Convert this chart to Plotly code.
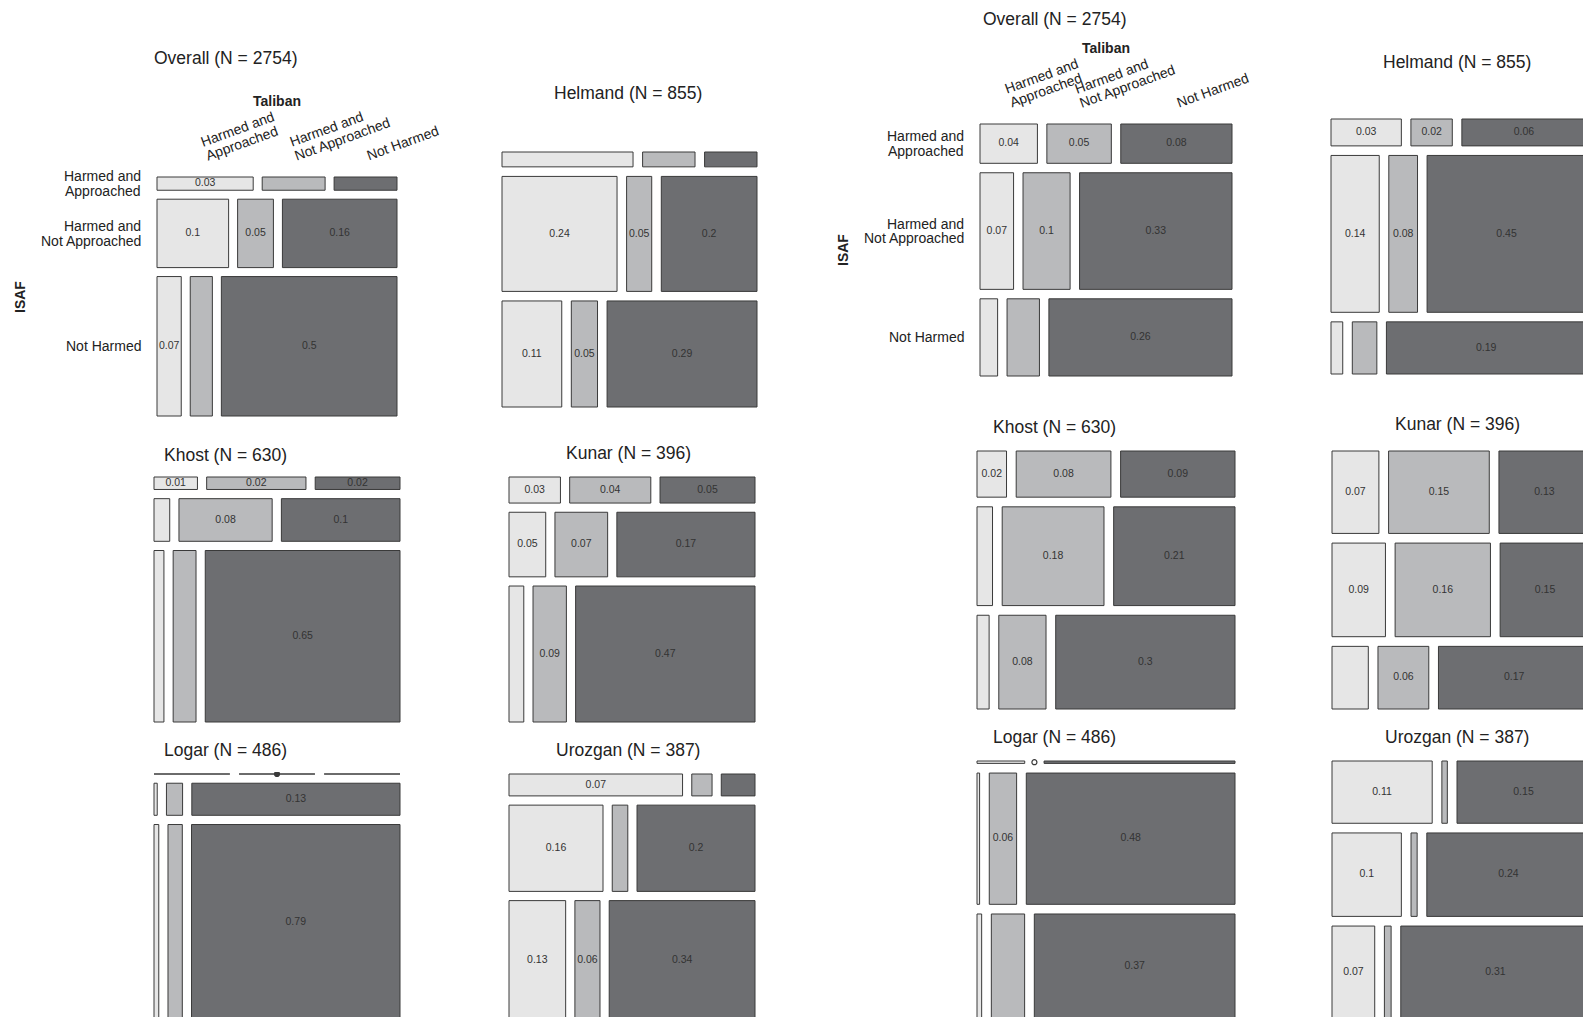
import math
import plotly.graph_objects as go

W, H = 1583, 1017

# ---------------- data ----------------
regions = ["Overall", "Helmand", "Khost", "Kunar", "Logar", "Urozgan"]
n_obs = [2754, 855, 630, 396, 486, 387]
isaf_levels = [["Harmed and", "Approached"], ["Harmed and", "Not Approached"], ["Not Harmed"]]
taliban_levels = [["Harmed and", "Approached"], ["Harmed and", "Not Approached"], ["Not Harmed"]]

# rows = ISAF category, columns = Taliban category (cell proportions)
left_overall = [[0.026, 0.017, 0.017], [0.100, 0.050, 0.160], [0.069, 0.063, 0.500]]
left_helmand = [[0.035, 0.014, 0.014], [0.238, 0.052, 0.198], [0.114, 0.050, 0.286]]
left_khost = [[0.0105, 0.024, 0.0205], [0.013, 0.077, 0.098], [0.033, 0.076, 0.647]]
left_kunar = [[0.026, 0.041, 0.048], [0.046, 0.066, 0.173], [0.039, 0.088, 0.473]]
left_logar = [[0.0, 0.0, 0.0], [0.002, 0.010, 0.129], [0.018, 0.054, 0.787]]
left_urozgan = [[0.0736, 0.0086, 0.0143], [0.157, 0.026, 0.197], [0.131, 0.058, 0.337]]

right_overall = [[0.0415, 0.0466, 0.0804], [0.072, 0.101, 0.327], [0.025, 0.046, 0.260]]
right_helmand = [[0.034, 0.020, 0.060], [0.136, 0.081, 0.448], [0.011, 0.023, 0.187]]
right_khost = [[0.024, 0.077, 0.093], [0.027, 0.177, 0.211], [0.020, 0.078, 0.296]]
right_kunar = [[0.068, 0.146, 0.132], [0.088, 0.157, 0.148], [0.040, 0.056, 0.167]]
right_logar = [[0.002, 0.0, 0.008], [0.006, 0.063, 0.481], [0.0086, 0.0614, 0.370]]
right_urozgan = [[0.110, 0.006, 0.146], [0.102, 0.009, 0.240], [0.070, 0.011, 0.310]]

# which cells carry a printed value
left_overall_lab = [[1, 0, 0], [1, 1, 1], [1, 0, 1]]
left_helmand_lab = [[0, 0, 0], [1, 1, 1], [1, 1, 1]]
left_khost_lab = [[1, 1, 1], [0, 1, 1], [0, 0, 1]]
left_kunar_lab = [[1, 1, 1], [1, 1, 1], [0, 1, 1]]
left_logar_lab = [[0, 0, 0], [0, 0, 1], [0, 0, 1]]
left_urozgan_lab = [[1, 0, 0], [1, 0, 1], [1, 1, 1]]

right_overall_lab = [[1, 1, 1], [1, 1, 1], [0, 0, 1]]
right_helmand_lab = [[1, 1, 1], [1, 1, 1], [0, 0, 1]]
right_khost_lab = [[1, 1, 1], [0, 1, 1], [0, 1, 1]]
right_kunar_lab = [[1, 1, 1], [1, 1, 1], [0, 1, 1]]
right_logar_lab = [[0, 0, 0], [0, 1, 1], [0, 0, 1]]
right_urozgan_lab = [[1, 0, 1], [1, 0, 1], [1, 0, 1]]

# empty cells marked with a small circle
left_logar_zero = [(0, 1)]
right_logar_zero = [(0, 1)]

# ---------------- layout (pixel boxes) ----------------
panels = [
    (left_overall, left_overall_lab, [], 0, (157, 177, 397, 416), (225, 58), True),
    (left_helmand, left_helmand_lab, [], 1, (502, 152, 757, 407), (628, 93), False),
    (left_khost, left_khost_lab, [], 2, (154, 477, 400, 722), (225, 455), False),
    (left_kunar, left_kunar_lab, [], 3, (509, 477, 755, 722), (628.5, 453), False),
    (left_logar, left_logar_lab, left_logar_zero, 4, (154, 774, 400, 1020), (225, 750), False),
    (left_urozgan, left_urozgan_lab, [], 5, (509, 774, 755, 1020), (628, 750), False),
    (right_overall, right_overall_lab, [], 0, (980, 124, 1232, 376), (1054, 19), True),
    (right_helmand, right_helmand_lab, [], 1, (1331, 119, 1586, 374), (1457, 62), False),
    (right_khost, right_khost_lab, [], 2, (977, 451, 1235, 709), (1054, 427), False),
    (right_kunar, right_kunar_lab, [], 3, (1332, 451, 1590, 709), (1457.5, 424), False),
    (right_logar, right_logar_lab, right_logar_zero, 4, (977, 761, 1235, 1019), (1054, 737), False),
    (right_urozgan, right_urozgan_lab, [], 5, (1332, 761, 1590, 1019), (1457, 737), False),
]
header_pos = [((277, 101), (20, 297)), ((1105.5, 48), (843, 250))]

FONT = "Liberation Sans, Arial, Helvetica, sans-serif"
FILLS = ["#e6e6e6", "#b9babc", "#6d6e71"]
EDGE = "#3a3a3a"
TXT = "#222222"
GAP = 0.0375
LINE = 14.6          # line spacing of two-line labels (px)
ANG = 20.0           # rotation of column labels (deg)


def mosaic(vals, g=GAP):
    tot = sum(sum(r) for r in vals)
    avail = 1 - 2 * g
    out = []
    ytop = 1.0
    for i, r in enumerate(vals):
        rs = sum(r)
        h = avail * rs / tot
        y0, y1 = ytop - h, ytop
        conds = [v / rs for v in r] if rs > 0 else [1 / 3] * 3
        x = 0.0
        for j, c in enumerate(conds):
            w = avail * c
            out.append((i, j, x, x + w, y0, y1, rs == 0))
            x += w + g
        ytop = y0 - g
    return out


fig = go.Figure()
annotations = []
layout_axes = {}
sa, ca = math.sin(math.radians(ANG)), math.cos(math.radians(ANG))

for k, (vals, labs, zeros, ridx, box, tpos, header) in enumerate(panels, start=1):
    x0, y0, x1, y1 = box
    bw, bh = x1 - x0, y1 - y0
    pad = 2
    vx0, vx1 = max(x0 - pad, 0), min(x1 + pad, W)
    vy0, vy1 = max(y0 - pad, 0), min(y1 + pad, H)
    xr = [(vx0 - x0) / bw, (vx1 - x0) / bw]
    yr = [(y1 - vy1) / bh, (y1 - vy0) / bh]
    xs = "" if k == 1 else str(k)
    layout_axes["xaxis" + xs] = dict(domain=[vx0 / W, vx1 / W], range=xr, visible=False,
                                     fixedrange=True, anchor="y" + xs)
    layout_axes["yaxis" + xs] = dict(domain=[1 - vy1 / H, 1 - vy0 / H], range=yr, visible=False,
                                     fixedrange=True, anchor="x" + xs)
    xref, yref = "x" + xs, "y" + xs

    tiles = mosaic(vals)
    for j in range(3):
        px, py = [], []
        for (ri, cj, a, b, c, d, emptyrow) in tiles:
            if cj != j or ((ri, cj) in zeros and not emptyrow):
                continue
            px += [a, b, b, a, a, None]
            py += [c, c, d, d, c, None]
        fig.add_trace(go.Scatter(x=px, y=py, xaxis=xref, yaxis=yref, mode="lines",
                                 fill="toself", fillcolor=FILLS[j],
                                 line=dict(color=EDGE, width=1), hoverinfo="skip",
                                 showlegend=False))
    tx, ty, tt = [], [], []
    for (ri, cj, a, b, c, d, emptyrow) in tiles:
        if labs[ri][cj]:
            tx.append((a + b) / 2)
            ty.append((c + d) / 2)
            tt.append(f"{round(vals[ri][cj], 2):g}")
    fig.add_trace(go.Scatter(x=tx, y=ty, text=tt, mode="text", xaxis=xref, yaxis=yref,
                             textfont=dict(family=FONT, size=10.5, color="#333333"),
                             hoverinfo="skip", showlegend=False))
    if zeros:
        zx, zy, zs = [], [], []
        for (ri, cj, a, b, c, d, emptyrow) in tiles:
            if (ri, cj) in zeros:
                zx.append((a + b) / 2)
                zy.append((c + d) / 2)
                zs.append("circle" if emptyrow else "circle-open")
        fig.add_trace(go.Scatter(x=zx, y=zy, mode="markers", xaxis=xref, yaxis=yref,
                                 marker=dict(symbol=zs, size=5, color=EDGE,
                                             line=dict(width=1.2, color=EDGE)),
                                 hoverinfo="skip", showlegend=False))

    annotations.append(dict(text=f"{regions[ridx]} (N = {n_obs[ridx]})", x=tpos[0] / W,
                            y=1 - tpos[1] / H, xref="paper", yref="paper",
                            xanchor="center", yanchor="middle", showarrow=False,
                            font=dict(family=FONT, size=17.5, color=TXT)))

    if header:
        side = 0 if k == 1 else 1
        (tax, tay), (isx, isy) = header_pos[side]
        annotations.append(dict(text="<b>Taliban</b>", x=tax / W, y=1 - tay / H,
                                xref="paper", yref="paper", showarrow=False,
                                xanchor="center", yanchor="middle",
                                font=dict(family=FONT, size=14, color=TXT)))
        annotations.append(dict(text="<b>ISAF</b>", x=isx / W, y=1 - isy / H,
                                xref="paper", yref="paper", showarrow=False, textangle=-90,
                                xanchor="center", yanchor="middle",
                                font=dict(family=FONT, size=14, color=TXT)))
        # row labels (one annotation per text line for tight spacing)
        for (ri, cj, a, b, c, d, emptyrow) in tiles:
            if cj == 0:
                lines = isaf_levels[ri]
                nl = len(lines)
                for li, s in enumerate(lines):
                    off = ((nl - 1) / 2 - li) * LINE
                    annotations.append(dict(text=s, x=0, y=(c + d) / 2,
                                            xref=xref, yref=yref, xanchor="right",
                                            yanchor="middle", xshift=-14, yshift=off,
                                            showarrow=False,
                                            font=dict(family=FONT, size=14, color=TXT)))
        # column labels, anchored at the top-row tile centres
        for (ri, cj, a, b, c, d, emptyrow) in tiles:
            if ri == 0:
                lines = taliban_levels[cj]
                nl = len(lines)
                for li, s in enumerate(lines):
                    m = nl - 1 - li
                    annotations.append(dict(text=s, x=(a + b) / 2, y=1,
                                            xref=xref, yref=yref, xanchor="left",
                                            yanchor="bottom", textangle=-ANG,
                                            xshift=-4 - m * LINE * sa,
                                            yshift=11 + m * LINE * ca,
                                            showarrow=False,
                                            font=dict(family=FONT, size=14, color=TXT)))

fig.update_layout(width=W, height=H, margin=dict(l=0, r=0, t=0, b=0),
                  paper_bgcolor="white", plot_bgcolor="white",
                  annotations=annotations, **layout_axes)

fig.write_html("out.html", config={"displayModeBar": False},
               post_script="document.body.style.margin='0';document.body.style.overflow='hidden';")
